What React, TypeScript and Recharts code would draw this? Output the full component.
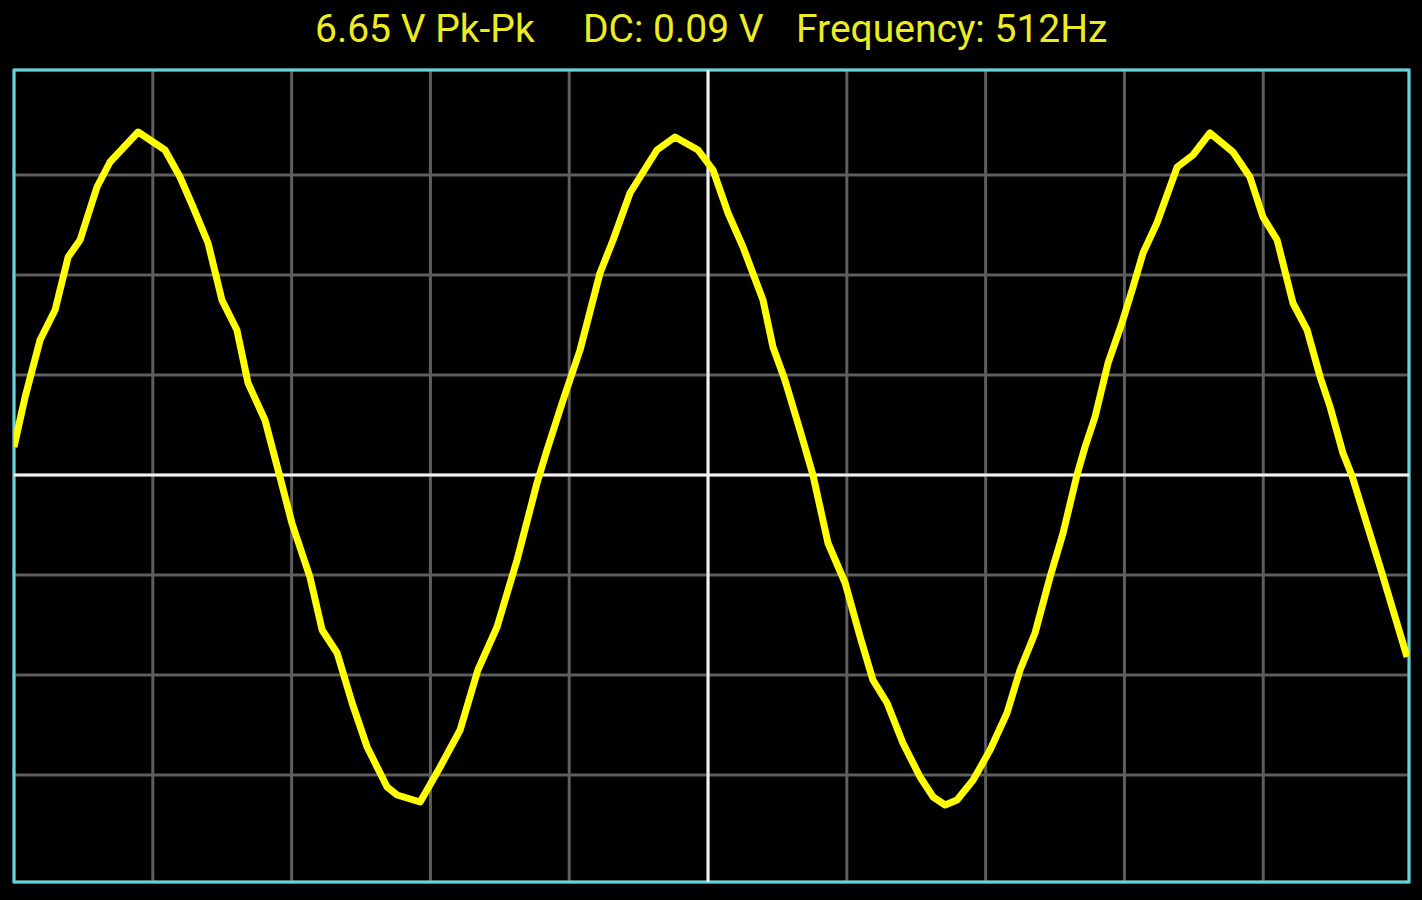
import { LineChart, Line, XAxis, YAxis, CartesianGrid, ReferenceLine, ReferenceArea } from "recharts"

// time in ms (0.5 ms/div), voltage in V (1 V/div)
const TIME_MS = [
  0, 0.04, 0.094, 0.148, 0.195, 0.238, 0.299, 0.346, 0.447, 0.544,
  0.598, 0.645, 0.699, 0.749, 0.803, 0.843, 0.904, 0.958, 1.001, 1.066,
  1.11, 1.164, 1.218, 1.272, 1.344, 1.38, 1.463, 1.535, 1.607, 1.671,
  1.74, 1.812, 1.884, 1.92, 1.978, 2.039, 2.111, 2.158, 2.219, 2.316,
  2.381, 2.464, 2.518, 2.572, 2.626, 2.698, 2.734, 2.777, 2.831, 2.878,
  2.932, 2.994, 3.048, 3.094, 3.145, 3.202, 3.264, 3.311, 3.354, 3.397,
  3.455, 3.516, 3.577, 3.624, 3.678, 3.732, 3.779, 3.829, 3.858, 3.894,
  3.941, 3.991, 4.031, 4.067, 4.117, 4.19, 4.247, 4.308, 4.391, 4.452,
  4.499, 4.55, 4.607, 4.658, 4.705, 4.741, 4.787, 4.82, 4.921, 5.018,
]

const VOLTS = [
  0.28, 0.78, 1.35, 1.65, 2.18, 2.35, 2.88, 3.13, 3.43, 3.25,
  2.98, 2.68, 2.32, 1.75, 1.45, 0.92, 0.55, -0.02, -0.48, -1.02,
  -1.55, -1.78, -2.28, -2.72, -3.12, -3.2, -3.27, -2.92, -2.55, -1.95,
  -1.52, -0.85, -0.08, 0.25, 0.75, 1.25, 2.02, 2.35, 2.82, 3.25,
  3.38, 3.25, 3.05, 2.62, 2.28, 1.75, 1.28, 0.95, 0.45, 0.0,
  -0.68, -1.08, -1.62, -2.05, -2.28, -2.68, -3.02, -3.22, -3.3, -3.25,
  -3.05, -2.75, -2.38, -1.95, -1.58, -1.02, -0.58, 0.0, 0.28, 0.58,
  1.12, 1.52, 1.88, 2.22, 2.52, 3.08, 3.2, 3.42, 3.23, 2.98,
  2.58, 2.35, 1.72, 1.45, 0.98, 0.68, 0.22, -0.01, -0.92, -1.82,
]

const TIME_TICKS = [0.5, 1, 1.5, 2, 2.5, 3, 3.5, 4, 4.5]
const VOLT_TICKS = [-3, -2, -1, 0, 1, 2, 3]

const PK_PK = "6.65 V Pk-Pk"
const DC = "DC: 0.09 V"
const FREQ = "Frequency: 512Hz"

const data = TIME_MS.map((t, i) => ({ t, v: VOLTS[i] }))

const X_DOMAIN: [number, number] = [0, 5.025]
const Y_DOMAIN: [number, number] = [-4.07, 4.05]

const labelStyle: React.CSSProperties = {
  position: "absolute",
  top: 9,
  fontFamily: "Roboto, sans-serif",
  fontSize: 39,
  lineHeight: "40px",
  color: "#ecec22",
  whiteSpace: "nowrap",
}

export default function App() {
  return (
    <div style={{ position: "fixed", left: 0, top: 0, width: 1422, height: 900, background: "#000" }}>
      <span style={{ ...labelStyle, left: 315 }}>{PK_PK}</span>
      <span style={{ ...labelStyle, left: 583 }}>{DC}</span>
      <span style={{ ...labelStyle, left: 796 }}>{FREQ}</span>
      <LineChart
        width={1422}
        height={900}
        data={data}
        margin={{ top: 70, right: 13, bottom: 18, left: 14 }}
      >
        <XAxis dataKey="t" type="number" domain={X_DOMAIN} ticks={TIME_TICKS} hide allowDataOverflow />
        <YAxis type="number" domain={Y_DOMAIN} ticks={VOLT_TICKS} hide allowDataOverflow />
        <CartesianGrid stroke="#5e5e5e" strokeWidth={3} />
        <ReferenceLine x={2.5} stroke="#f2f2f2" strokeWidth={3} />
        <ReferenceLine y={0} stroke="#f2f2f2" strokeWidth={3} />
        <Line
          type="linear"
          dataKey="v"
          stroke="#ffff00"
          strokeWidth={7}
          strokeLinejoin="round"
          dot={false}
          isAnimationActive={false}
        />
        <ReferenceArea
          x1={X_DOMAIN[0]}
          x2={X_DOMAIN[1]}
          y1={Y_DOMAIN[0]}
          y2={Y_DOMAIN[1]}
          fill="none"
          stroke="#62d4dc"
          strokeWidth={3}
          ifOverflow="extendDomain"
        />
      </LineChart>
    </div>
  )
}
